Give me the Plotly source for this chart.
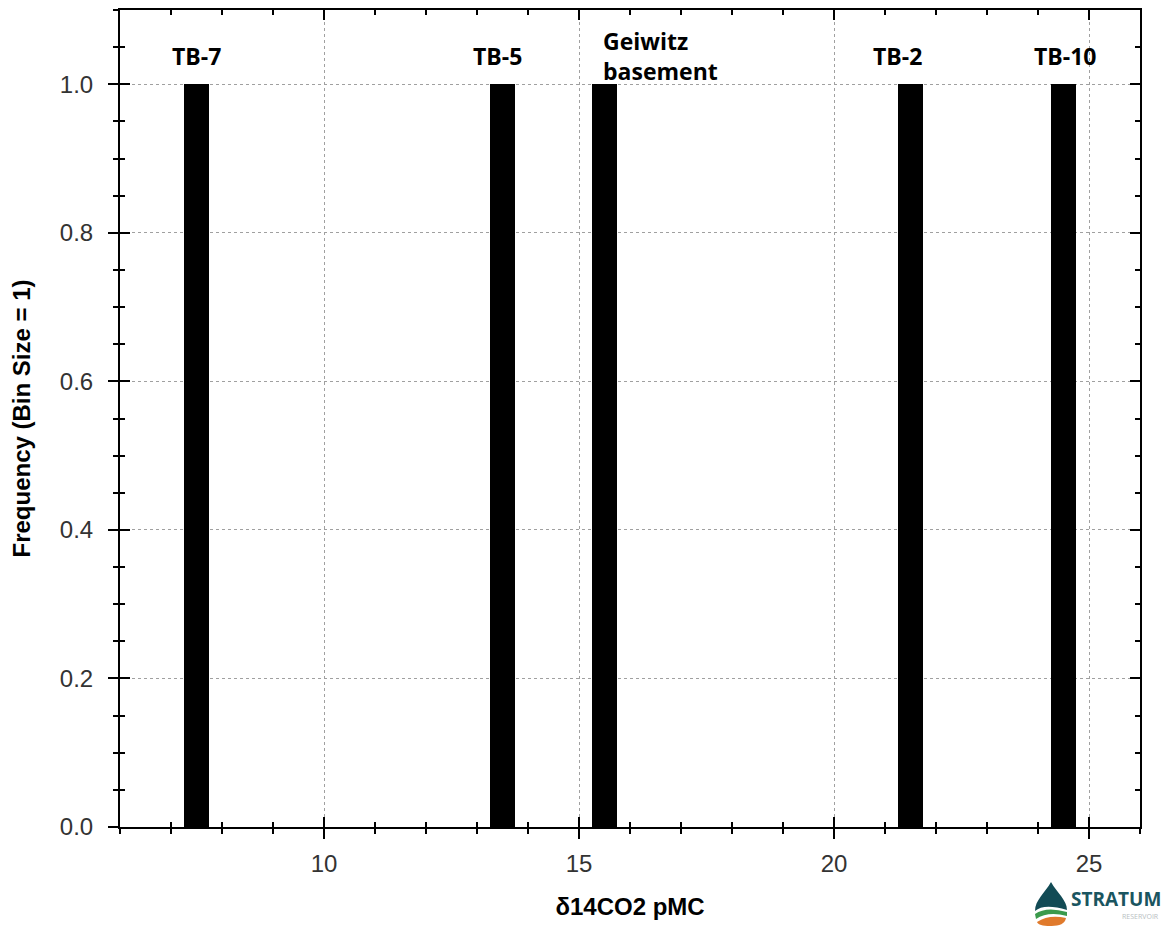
import plotly.graph_objects as go

# ---- data ----
bin_centers = [7.5, 13.5, 15.5, 21.5, 24.5]
frequencies = [1, 1, 1, 1, 1]
bar_width = 0.5
labels = ["TB-7", "TB-5", "Geiwitz<br>basement", "TB-2", "TB-10"]
label_x = [7.5, 13.4, 15.44, 21.25, 24.52]
label_anchor = ["center", "center", "left", "center", "center"]
x_range = [6, 26]
y_range = [0, 1.1]
x_title = "δ14CO2 pMC"
y_title = "Frequency (Bin Size = 1)"

W, H = 1164, 926
ML, MR, MT, MB = 120, 24, 10, 99

fig = go.Figure()
fig.add_trace(go.Bar(x=bin_centers, y=frequencies, width=bar_width,
                     marker=dict(color="black", line=dict(width=0)),
                     showlegend=False, hoverinfo="x+y"))
# invisible trace to carry overlay axes (inside ticks)
fig.add_trace(go.Scatter(x=[None], y=[None], xaxis="x2", yaxis="y2",
                         showlegend=False, hoverinfo="skip"))

tickfont = dict(family="Arial, Liberation Sans", size=24, color="#333333")
axis_common = dict(showline=True, linecolor="black", linewidth=2,
                   tickcolor="black", tickwidth=2, zeroline=False,
                   automargin=False)
title_font = dict(family="Arial, Liberation Sans", size=24, color="black")

fig.update_layout(
    width=W, height=H,
    margin=dict(l=ML, r=MR, t=MT, b=MB, autoexpand=False),
    plot_bgcolor="white", paper_bgcolor="white",
    bargap=0,
    xaxis=dict(range=x_range, dtick=5, tick0=0, ticks="outside", ticklen=10,
               minor=dict(dtick=1, tick0=0, ticks="outside", ticklen=5,
                          tickcolor="black", tickwidth=1.5, showgrid=False),
               showgrid=True, gridcolor="#a0a0a0", griddash="dot", gridwidth=1,
               tickfont=tickfont, mirror=True, ticklabelstandoff=4,
               title=dict(text="<b>%s</b>" % x_title, font=title_font, standoff=22),
               **axis_common),
    yaxis=dict(range=y_range, dtick=0.2, tick0=0, tickformat=".1f",
               ticks="outside", ticklen=10,
               minor=dict(dtick=0.05, tick0=0, ticks="outside", ticklen=5,
                          tickcolor="black", tickwidth=1.5, showgrid=False),
               showgrid=True, gridcolor="#a0a0a0", griddash="dot", gridwidth=1,
               tickfont=tickfont, mirror=True, ticklabelstandoff=10,
               title=dict(text="<b>%s</b>" % y_title, font=title_font, standoff=22),
               **axis_common),
    xaxis2=dict(overlaying="x", matches="x", range=x_range, side="bottom",
                dtick=5, tick0=0, ticks="inside", ticklen=10,
                minor=dict(dtick=1, tick0=0, ticks="inside", ticklen=5,
                           tickcolor="black", tickwidth=1.5, showgrid=False),
                showgrid=False, showticklabels=False, mirror="ticks",
                **axis_common),
    yaxis2=dict(overlaying="y", matches="y", range=y_range, side="left",
                dtick=0.2, tick0=0, ticks="inside", ticklen=10,
                minor=dict(dtick=0.05, tick0=0, ticks="inside", ticklen=5,
                           tickcolor="black", tickwidth=1.5, showgrid=False),
                showgrid=False, showticklabels=False, mirror="ticks",
                **axis_common),
)

for txt, lx, anc in zip(labels, label_x, label_anchor):
    fig.add_annotation(x=lx, y=1.0, xref="x", yref="y", text="<b>%s</b>" % txt,
                       showarrow=False, xanchor=anc, yanchor="middle",
                       yshift=28, align="left",
                       font=dict(family="Open Sans, Lato", size=23, color="black"))

# ---- logo (decorative) ----
pw, ph = W - ML - MR, H - MT - MB

def px(x, y):
    return "%.5f %.5f" % ((x - ML) / pw, (H - MB - y) / ph)

teal = "M %s C %s, %s, %s Q %s, %s C %s, %s, %s Z" % (
    px(1051, 882), px(1045, 893), px(1035, 900), px(1035, 911),
    px(1044, 903), px(1067, 910), px(1067, 900), px(1057, 893), px(1051, 882))
green = "M %s Q %s, %s L %s Q %s, %s Z" % (
    px(1035, 914), px(1046, 906), px(1067, 912), px(1067, 916),
    px(1048, 911), px(1036, 919))
orange = "M %s Q %s, %s C %s, %s, %s C %s, %s, %s Z" % (
    px(1037, 922), px(1049, 914), px(1066, 918), px(1065, 924), px(1059, 926),
    px(1051, 926), px(1043, 926), px(1038, 925), px(1037, 922))
for path, col in [(teal, "#124b55"), (green, "#3b9a4c"), (orange, "#e07a2c")]:
    fig.add_shape(type="path", path=path, xref="paper", yref="paper",
                  fillcolor=col, line=dict(width=0), layer="above")

fig.add_annotation(x=(1163 - ML) / pw, y=(H - MB - 899) / ph, xref="paper", yref="paper",
                   text="<b>STRATUM</b>", showarrow=False, xanchor="right", yanchor="middle",
                   font=dict(family="Open Sans, Lato", size=19, color="#1a5560"))
fig.add_annotation(x=(1161 - ML) / pw, y=(H - MB - 916) / ph, xref="paper", yref="paper",
                   text="RESERVOIR", showarrow=False, xanchor="right", yanchor="middle",
                   font=dict(family="Open Sans, Lato", size=7, color="#b8bec2"))

fig.write_html("out.html", config={"displayModeBar": False},
               post_script="document.body.style.margin='0';document.body.style.overflow='hidden';")
